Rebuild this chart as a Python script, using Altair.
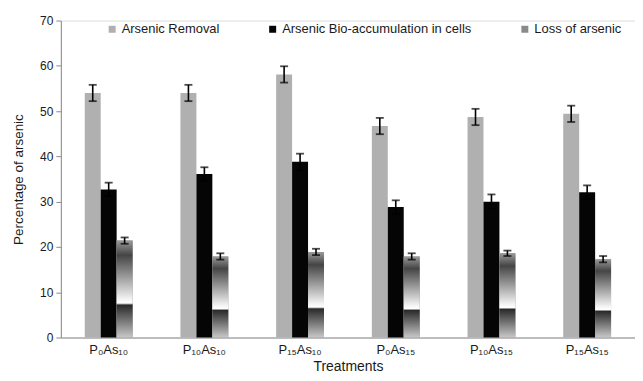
import altair as alt
import pandas as pd

treatments = ["P₀As₁₀", "P₁₀As₁₀", "P₁₅As₁₀", "P₀As₁₅", "P₁₀As₁₅", "P₁₅As₁₅"]
series_names = ["Arsenic Removal", "Arsenic Bio-accumulation in cells", "Loss of arsenic"]

removal = [54.0, 54.0, 58.1, 46.7, 48.7, 49.4]
removal_err = [1.8, 1.8, 1.8, 1.8, 1.8, 1.8]
bio = [32.7, 36.1, 38.8, 28.8, 30.0, 32.1]
bio_err = [1.5, 1.5, 1.8, 1.5, 1.6, 1.5]
loss = [21.4, 17.9, 18.9, 17.9, 18.6, 17.3]
loss_err = [0.7, 0.7, 0.7, 0.7, 0.6, 0.7]

rows = []
for name, vals, errs in zip(series_names, [removal, bio, loss], [removal_err, bio_err, loss_err]):
    for t, v, e in zip(treatments, vals, errs):
        rows.append({"Treatment": t, "Series": name, "Value": v, "Lo": v - e, "Hi": v + e})
df = pd.DataFrame(rows)

YT = "Percentage of arsenic"

x = alt.X("Treatment:N", sort=treatments,
          scale=alt.Scale(paddingInner=0.5, paddingOuter=0.25),
          axis=alt.Axis(title="Treatments", labelAngle=0, ticks=False, domainColor="#8c8c8c",
                        labelFontSize=13, labelColor="#1a1a1a", titleFontSize=14,
                        titleFontWeight="normal", titleColor="#1a1a1a", labelPadding=6, titlePadding=3))
xo = alt.XOffset("Series:N", sort=series_names,
                 scale=alt.Scale(domain=series_names, paddingInner=0, paddingOuter=0))
y = alt.Y("Value:Q", title=YT, scale=alt.Scale(domain=[0, 70]),
          axis=alt.Axis(values=list(range(0, 71, 10)), grid=False, domainColor="#8c8c8c",
                        tickColor="#8c8c8c", tickSize=5, labelFontSize=12, labelColor="#1a1a1a",
                        labelPadding=3, titlePadding=14, titleFontSize=13.5,
                        titleFontWeight="normal", titleColor="#1a1a1a"))

bars = alt.Chart(df).mark_bar().encode(
    x=x, xOffset=xo, y=y,
    color=alt.Color("Series:N", sort=series_names,
                    scale=alt.Scale(domain=series_names, range=["#b0b0b0", "#050505", "#8a8a8a"]),
                    legend=alt.Legend(orient="none", legendX=45, legendY=2, direction="horizontal",
                                      title=None, symbolType="square", symbolSize=49,
                                      symbolStrokeWidth=0, labelFontSize=13, labelColor="#1a1a1a",
                                      columnPadding=46, labelOffset=3, labelLimit=400)),
)

loss_overlay = alt.Chart(df).transform_filter(alt.datum.Series == "Loss of arsenic").mark_bar(
    fill=alt.Gradient(gradient="linear", x1=0, x2=0, y1=0, y2=1,
                      stops=[alt.GradientStop(offset=0, color="#9a9a9a"),
                             alt.GradientStop(offset=0.15, color="#454545"),
                             alt.GradientStop(offset=0.6, color="#f2f2f2"),
                             alt.GradientStop(offset=0.645, color="#ffffff"),
                             alt.GradientStop(offset=0.665, color="#2a2a2a"),
                             alt.GradientStop(offset=1, color="#c8c8c8")])
).encode(x=x, xOffset=xo, y=y)

err_rule = alt.Chart(df).mark_rule(color="black", strokeWidth=1.6).encode(
    x=x, xOffset=xo, y=alt.Y("Lo:Q", title=YT), y2="Hi:Q")
cap_lo = alt.Chart(df).mark_tick(color="black", size=8, thickness=1.8).encode(
    x=x, xOffset=xo, y=alt.Y("Lo:Q", title=YT))
cap_hi = alt.Chart(df).mark_tick(color="black", size=8, thickness=1.8).encode(
    x=x, xOffset=xo, y=alt.Y("Hi:Q", title=YT))

chart = alt.layer(bars, loss_overlay, err_rule, cap_lo, cap_hi).properties(
    width=576, height=318,
    padding={"left": 3, "top": 6, "right": 0, "bottom": 0},
).configure_view(stroke=None).configure(font="Liberation Sans")

chart.save("out.html", embed_options={"renderer": "svg", "actions": False})
